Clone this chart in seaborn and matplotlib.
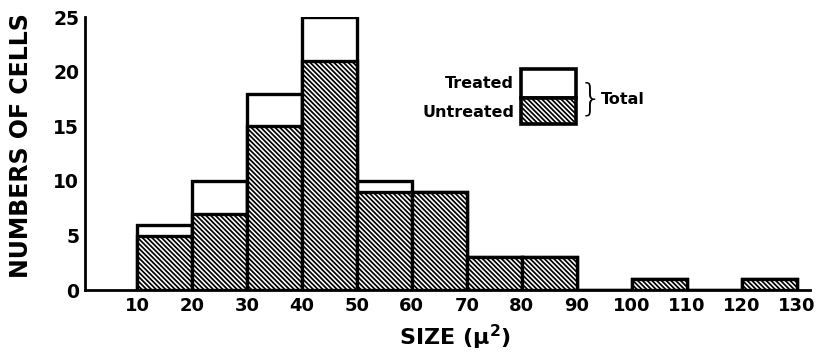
import matplotlib
matplotlib.use("Agg")
import matplotlib.pyplot as plt
import seaborn as sns
import numpy as np
from matplotlib.patches import Rectangle

# Data
bin_edges = [10, 20, 30, 40, 50, 60, 70, 80, 90, 100, 110, 120, 130]
bin_centers = [15, 25, 35, 45, 55, 65, 75, 85, 95, 105, 115, 125]
total_counts = [6, 10, 18, 25, 10, 9, 3, 3, 0, 1, 0, 1]
untreated_counts = [5, 7, 15, 21, 9, 9, 3, 3, 0, 1, 0, 1]
y_ticks = [0, 5, 10, 15, 20, 25]
x_tick_labels = ["10", "20", "30", "40", "50", "60", "70", "80", "90", "100", "110", "120", "130"]

sns.set_theme(style="white")
plt.rcParams["font.family"] = ["DejaVu Sans"]
plt.rcParams["hatch.linewidth"] = 1.25
plt.rcParams["hatch.color"] = "black"
plt.rcParams["text.color"] = "black"
plt.rcParams["axes.labelcolor"] = "black"
plt.rcParams["xtick.color"] = "black"
plt.rcParams["ytick.color"] = "black"

HATCH = "\\" * 7

fig = plt.figure(figsize=(8.16, 3.56), dpi=100)
ax = fig.add_axes([0.104, 0.185, 0.889, 0.767])

sns.histplot(x=bin_centers, weights=total_counts, bins=bin_edges, ax=ax,
             color="white", edgecolor="black", linewidth=2.4, alpha=1)
sns.histplot(x=bin_centers, weights=untreated_counts, bins=bin_edges, ax=ax,
             color="white", edgecolor="black", linewidth=2.4, alpha=1,
             hatch=HATCH)

ax.set_xlim(0.5, 132.5)
ax.set_ylim(0, 25)
ax.set_yticks(y_ticks)
ax.set_yticklabels([str(t) for t in y_ticks], fontsize=13.5, fontweight="bold")
ax.set_xticks(bin_edges)
ax.set_xticklabels(x_tick_labels, fontsize=13, fontweight="bold")
ax.tick_params(axis="y", direction="in", length=5, width=1.8, color="black", pad=4)
ax.tick_params(axis="x", length=0, pad=5)

for s in ["top", "right"]:
    ax.spines[s].set_visible(False)
for s in ["left", "bottom"]:
    ax.spines[s].set_color("black")
    ax.spines[s].set_linewidth(2)

ax.set_ylabel("NUMBERS OF CELLS", fontsize=17, fontweight="bold")
ax.yaxis.set_label_coords(-0.072, 0.53)
ax.set_xlabel("SIZE ($\\mathbf{\\mu^2}$)", fontsize=16, fontweight="bold", labelpad=5)
ax.xaxis.set_label_coords(0.51, -0.12)
ax.xaxis.label.set_va("top")

# Legend drawn as a key box
ax.add_patch(Rectangle((0.601, 0.703), 0.076, 0.106, transform=ax.transAxes,
                       facecolor="white", edgecolor="black", linewidth=2.6, clip_on=False))
ax.add_patch(Rectangle((0.601, 0.609), 0.076, 0.094, transform=ax.transAxes,
                       facecolor="white", edgecolor="black", linewidth=2.6,
                       hatch=HATCH, clip_on=False))
ax.text(0.592, 0.758, "Treated", transform=ax.transAxes, ha="right", va="center",
        fontsize=11.5, fontweight="bold")
ax.text(0.592, 0.652, "Untreated", transform=ax.transAxes, ha="right", va="center",
        fontsize=11.5, fontweight="bold")
ax.text(0.681, 0.700, "}", transform=ax.transAxes, ha="left", va="center",
        fontsize=27, fontweight="light")
ax.text(0.712, 0.700, "Total", transform=ax.transAxes, ha="left", va="center",
        fontsize=11.5, fontweight="bold")

fig.savefig("out.png", dpi=100)
